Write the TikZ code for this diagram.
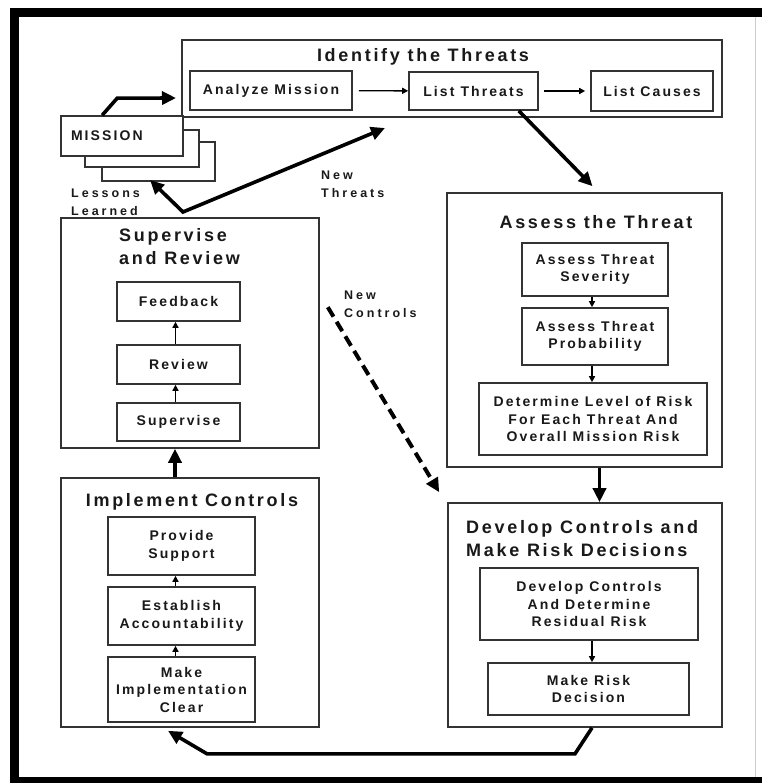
\documentclass[tikz,border=0pt]{standalone}
\usepackage{fontspec}
\setmainfont{Liberation Sans}
\newfontfamily\boxfont[LetterSpace=15]{Liberation Sans}
\newfontfamily\labfont[LetterSpace=24]{Liberation Sans}
\usetikzlibrary{arrows.meta,calc}

\begin{document}
\begin{tikzpicture}[x=1pt,y=-1pt,
  panel/.style={draw=black!80, line width=1.6pt, fill=white, inner sep=0pt},
  stepbox/.style={draw=black!80, line width=1.6pt, fill=white, inner sep=0pt,
    align=center, text=black!90,
    font=\boxfont\bfseries\fontsize{14pt}{17.5pt}\selectfont},
  ttl/.style={inner sep=0pt, text=black!90, align=left,
    font=\boxfont\bfseries\fontsize{18pt}{23pt}\selectfont},
  lab/.style={inner sep=0pt, text=black!90, align=left, anchor=west,
    font=\labfont\bfseries\fontsize{12.5pt}{18pt}\selectfont},
  flow/.style={draw=black, line width=3.6pt,
    -{Triangle[length=14pt,width=13pt]}},
  flowback/.style={draw=black, line width=3.6pt,
    {Triangle[length=14pt,width=13pt]}-{Triangle[length=14pt,width=13pt]}},
  substep/.style={draw=black, line width=1.4pt,
    -{Triangle[length=6pt,width=6pt]}}
]
\useasboundingbox (0,0) rectangle (762,783);
\fill[white] (0,0) rectangle (762,783);

% page frame
\fill[black] (10,8) rectangle (762,17);
\fill[black] (10,8) rectangle (19,783);
\fill[black] (10,777) rectangle (762,783);
\draw[black!20, line width=0.8pt] (755,17) -- (755,777);

% Identify the Threats
\node[panel, minimum width=540pt, minimum height=77pt] (ident) at (452,78.5) {};
\node[ttl] (identT) at (423,57) {Identify the Threats};
\node[stepbox, minimum width=162pt, minimum height=39pt] (am) at (271,90.5) {Analyze Mission};
\node[stepbox, minimum width=129pt, minimum height=38pt] (lt) at (473.5,91) {List Threats};
\node[stepbox, minimum width=122pt, minimum height=40pt] (lc) at (652,91) {List Causes};
\draw[substep, shorten <=6pt] (am) -- (lt);
\draw[substep, shorten <=5pt, shorten >=5pt] (lt) -- (lc);

% mission stack
\node[panel, minimum width=113pt, minimum height=39pt] (m3) at (158.5,161.5) {};
\node[panel, minimum width=114pt, minimum height=37pt] (m2) at (142,148.5) {};
\node[stepbox, minimum width=122pt, minimum height=40pt, align=left,
  text width=102pt] (m1) at (122,136) {MISSION};
\coordinate (missionIn) at (176,98);
\draw[flow] ($(m1.north west)+(42,0)$) -- ++(15,-17) -- (missionIn);

% lessons learned / new threats
\coordinate (llTip) at (150,180);
\coordinate (vtx) at (183,212);
\coordinate (ntTip) at (385,128);
\draw[flowback] (llTip) -- (vtx) -- (ntTip);
\node[lab] (lessons) at (71,202) {Lessons\\Learned};
\node[lab] (newT) at (321,184) {New\\Threats};

% Supervise and Review
\node[panel, minimum width=258pt, minimum height=230pt] (sr) at (190,333) {};
\node[ttl, anchor=west] (srT) at (119,247) {Supervise\\and Review};
\node[stepbox, minimum width=123pt, minimum height=39pt] (fb) at (178.5,301.5) {Feedback};
\node[stepbox, minimum width=123pt, minimum height=39pt] (rv) at (178.5,364.5) {Review};
\node[stepbox, minimum width=123pt, minimum height=38pt] (sv) at (178.5,422) {Supervise};
\draw[substep] ([xshift=-3pt]sv.north) -- ([xshift=-3pt]rv.south);
\draw[substep] ([xshift=-3pt]rv.north) -- ([xshift=-3pt]fb.south);

% Implement Controls
\node[panel, minimum width=258pt, minimum height=249pt] (ic) at (190,602.5) {};
\node[ttl] (icT) at (192,502) {Implement Controls};
\node[stepbox, minimum width=147pt, minimum height=58pt] (ps) at (181.5,546) {Provide\\Support};
\node[stepbox, minimum width=147pt, minimum height=58pt] (ea) at (181.5,616) {Establish\\Accountability};
\node[stepbox, minimum width=147pt, minimum height=65pt] (mic) at (181.5,689.5) {Make\\Implementation\\Clear};
\draw[substep] ([xshift=-6pt]mic.north) -- ([xshift=-6pt]ea.south);
\draw[substep] ([xshift=-6pt]ea.north) -- ([xshift=-6pt]ps.south);
\draw[flow] ([xshift=-15pt]ic.north) -- ([xshift=-15pt]sr.south);

% Assess the Threat
\node[panel, minimum width=275pt, minimum height=274pt] (at) at (584.5,330) {};
\node[ttl] (atT) at (596,222) {Assess the Threat};
\node[stepbox, minimum width=146pt, minimum height=53pt] (ats) at (595,269.5) {Assess Threat\\Severity};
\node[stepbox, minimum width=146pt, minimum height=57pt] (atp) at (595,336.5) {Assess Threat\\Probability};
\node[stepbox, minimum width=228pt, minimum height=72pt] (dl) at (593,419) {Determine Level of Risk\\For Each Threat And\\Overall Mission Risk};
\draw[substep] ([xshift=-3pt]ats.south) -- ([xshift=-3pt]atp.north);
\draw[substep] ([xshift=-3pt]atp.south) -- ([xshift=-3pt]atp.south |- dl.north);
\draw[flow] ([xshift=-20pt]lt.south east) -- ([xshift=8pt,yshift=6pt]at.north);

% Develop Controls and Make Risk Decisions
\node[panel, minimum width=274pt, minimum height=224pt] (dc) at (585,615) {};
\node[ttl, anchor=west] (dcT) at (466,539) {Develop Controls and\\Make Risk Decisions};
\node[stepbox, minimum width=218pt, minimum height=72pt] (dcr) at (589,604) {Develop Controls\\And Determine\\Residual Risk};
\node[stepbox, minimum width=201pt, minimum height=52pt] (mrd) at (588.5,689) {Make Risk\\Decision};
\draw[substep] ([xshift=3pt]dcr.south) -- ([xshift=3pt]dcr.south |- mrd.north);
\draw[flow] ([xshift=15pt]at.south) -- ([xshift=15pt]at.south |- dc.north);

% new controls
\draw[draw=black, line width=4pt, dash pattern=on 11pt off 6pt,
  -{Triangle[length=14pt,width=13pt]}]
  ($(sr.north east)+(8,90)$) -- ($(dc.north west)+(-8,-10)$);
\node[lab] (newC) at (344,304) {New\\Controls};

% return to implementation
\draw[flow] ([xshift=7pt]dc.south) -- ++(-17,26) -- ++(-368,0) -- ($(ic.south)+(-22,3)$);
\end{tikzpicture}
\end{document}
